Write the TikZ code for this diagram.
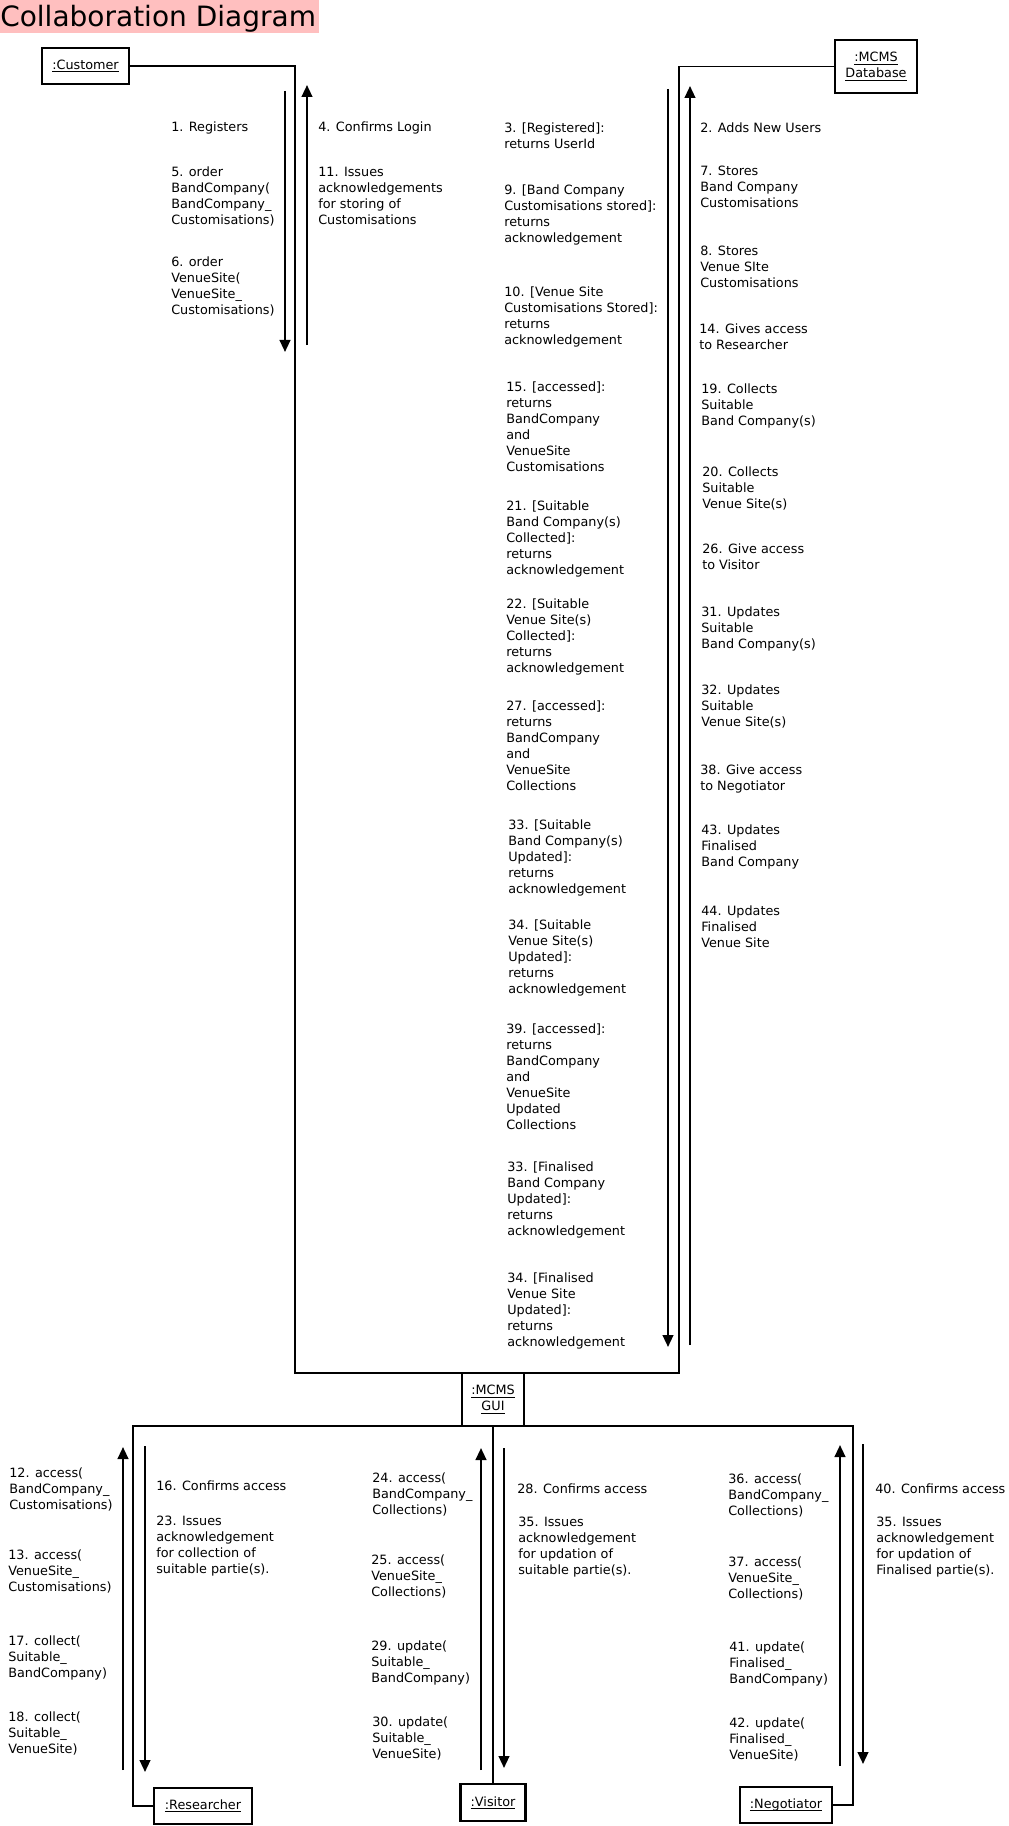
\documentclass[tikz,border=0pt]{standalone}
\usepackage{fontspec}
\setmainfont{DejaVu Sans}
\usetikzlibrary{arrows.meta}

\newcommand{\uname}[1]{\underline{\raisebox{0pt}[\height][0pt]{#1}}}

\begin{document}
\begin{tikzpicture}[x=0.75pt, y=-0.75pt,
    objbox/.style={draw, line width=2pt, inner sep=0pt, align=center, font=\fontsize{9.6}{12}\selectfont},
    link/.style={line width=1.4pt},
    msg/.style={line width=1.6pt, -{Triangle[length=9pt, width=8pt]}},
    lbl/.style={anchor=north west, align=left, inner sep=0pt, font=\fontsize{9.6}{12}\selectfont}]

    \useasboundingbox (0,0) rectangle (1008,1826);

    % Title
    \fill[pink] (0,0) rectangle (319,33);
    \node[anchor=base west, inner sep=0pt, font=\fontsize{21}{25}\selectfont] (title) at (0,27) {Collaboration Diagram};

    % Define objects with coordinates
    \node[objbox, minimum width=65.25pt, minimum height=27pt] (cust) at (85.5,66) {\uname{:Customer}};
    \node[objbox, minimum width=61.5pt, minimum height=39.75pt] (db) at (876,66.5) {\uname{:MCMS}\\\uname{Database}};
    \node[objbox, minimum width=46.5pt, minimum height=39.75pt] (gui) at (493,1399.5) {\uname{:MCMS}\\\uname{GUI}};
    \node[objbox, minimum width=73.5pt, minimum height=27pt] (res) at (203,1806) {\uname{:Researcher}};
    \node[objbox, minimum width=48.75pt, minimum height=27.75pt] (vis) at (493,1802.5) {\uname{:Visitor}};
    \node[objbox, minimum width=69pt, minimum height=27pt] (neg) at (786,1805) {\uname{:Negotiator}};

    % Links between the objects
    \coordinate (topL) at (295,1373);
    \coordinate (topR) at (679,1373);
    \coordinate (botL) at (133,1426);
    \coordinate (botR) at (853,1426);
    \draw[link] (cust.east) -| (topL) -- (topR) |- (db.west);
    \draw[link] (res.west) -| (botL) -- (botR) |- (neg.east);
    \draw[link] (gui.south) -- (vis.north);

    % Message arrows
    \foreach \n/\x/\ya/\yb in {cd/285/91/352, cu/307/345/85, dd/668/89/1347, du/690/1345/86,
        ru/123/1770/1447, rd/145/1446/1772, vu/481/1770/1448, vd/504/1448/1768,
        nu/840/1766/1445, nd/863/1444/1764}{
        \coordinate (\n s) at (\x,\ya);
        \coordinate (\n e) at (\x,\yb);
        \draw[msg] (\n s) -- (\n e);
    }

    % Customer messages
    \node[lbl] (m1) at (171,122) {1. Registers};
    \node[lbl] (m5) at (171,167) {5. order\\BandCompany(\\BandCompany\_\\Customisations)};
    \node[lbl] (m6) at (171,257) {6. order\\VenueSite(\\VenueSite\_\\Customisations)};
    \node[lbl] (m4) at (318,122) {4. Confirms Login};
    \node[lbl] (m11) at (318,167) {11. Issues\\acknowledgements\\for storing of\\Customisations};

    % Database replies
    \node[lbl] (m3) at (504,123) {3. [Registered]:\\returns UserId};
    \node[lbl] (m9) at (504,185) {9. [Band Company\\Customisations stored]:\\returns\\acknowledgement};
    \node[lbl] (m10) at (504,287) {10. [Venue Site\\Customisations Stored]:\\returns\\acknowledgement};
    \node[lbl] (m15) at (506,382) {15. [accessed]:\\returns\\BandCompany\\and\\VenueSite\\Customisations};
    \node[lbl] (m21) at (506,501) {21. [Suitable\\Band Company(s)\\Collected]:\\returns\\acknowledgement};
    \node[lbl] (m22) at (506,599) {22. [Suitable\\Venue Site(s)\\Collected]:\\returns\\acknowledgement};
    \node[lbl] (m27) at (506,701) {27. [accessed]:\\returns\\BandCompany\\and\\VenueSite\\Collections};
    \node[lbl] (m33) at (508,820) {33. [Suitable\\Band Company(s)\\Updated]:\\returns\\acknowledgement};
    \node[lbl] (m34) at (508,919) {34. [Suitable\\Venue Site(s)\\Updated]:\\returns\\acknowledgement};
    \node[lbl] (m39) at (506,1023) {39. [accessed]:\\returns\\BandCompany\\and\\VenueSite\\Updated\\Collections};
    \node[lbl] (m33f) at (507,1161) {33. [Finalised\\Band Company\\Updated]:\\returns\\acknowledgement};
    \node[lbl] (m34f) at (507,1272) {34. [Finalised\\Venue Site\\Updated]:\\returns\\acknowledgement};

    % Database actions
    \node[lbl] (m2) at (700,123) {2. Adds New Users};
    \node[lbl] (m7) at (700,166) {7. Stores\\Band Company\\Customisations};
    \node[lbl] (m8) at (700,246) {8. Stores\\Venue SIte\\Customisations};
    \node[lbl] (m14) at (699,324) {14. Gives access\\to Researcher};
    \node[lbl] (m19) at (701,384) {19. Collects\\Suitable\\Band Company(s)};
    \node[lbl] (m20) at (702,467) {20. Collects\\Suitable\\Venue Site(s)};
    \node[lbl] (m26) at (702,544) {26. Give access\\to Visitor};
    \node[lbl] (m31) at (701,607) {31. Updates\\Suitable\\Band Company(s)};
    \node[lbl] (m32) at (701,685) {32. Updates\\Suitable\\Venue Site(s)};
    \node[lbl] (m38) at (700,765) {38. Give access\\to Negotiator};
    \node[lbl] (m43) at (701,824) {43. Updates\\Finalised\\Band Company};
    \node[lbl] (m44) at (701,905) {44. Updates\\Finalised\\Venue Site};

    % Researcher messages
    \node[lbl] (m12) at (9,1468) {12. access(\\BandCompany\_\\Customisations)};
    \node[lbl] (m13) at (8,1550) {13. access(\\VenueSite\_\\Customisations)};
    \node[lbl] (m17) at (8,1635) {17. collect(\\Suitable\_\\BandCompany)};
    \node[lbl] (m18) at (8,1711) {18. collect(\\Suitable\_\\VenueSite)};
    \node[lbl] (m16) at (156,1480) {16. Confirms access};
    \node[lbl] (m23) at (156,1516) {23. Issues\\acknowledgement\\for collection of\\suitable partie(s).};

    % Visitor messages
    \node[lbl] (m24) at (372,1473) {24. access(\\BandCompany\_\\Collections)};
    \node[lbl] (m25) at (371,1555) {25. access(\\VenueSite\_\\Collections)};
    \node[lbl] (m29) at (371,1640) {29. update(\\Suitable\_\\BandCompany)};
    \node[lbl] (m30) at (372,1716) {30. update(\\Suitable\_\\VenueSite)};
    \node[lbl] (m28) at (517,1483) {28. Confirms access};
    \node[lbl] (m35) at (518,1517) {35. Issues\\acknowledgement\\for updation of\\suitable partie(s).};

    % Negotiator messages
    \node[lbl] (m36) at (728,1474) {36. access(\\BandCompany\_\\Collections)};
    \node[lbl] (m37) at (728,1557) {37. access(\\VenueSite\_\\Collections)};
    \node[lbl] (m41) at (729,1641) {41. update(\\Finalised\_\\BandCompany)};
    \node[lbl] (m42) at (729,1717) {42. update(\\Finalised\_\\VenueSite)};
    \node[lbl] (m40) at (875,1483) {40. Confirms access};
    \node[lbl] (m35f) at (876,1517) {35. Issues\\acknowledgement\\for updation of\\Finalised partie(s).};

\end{tikzpicture}
\end{document}
